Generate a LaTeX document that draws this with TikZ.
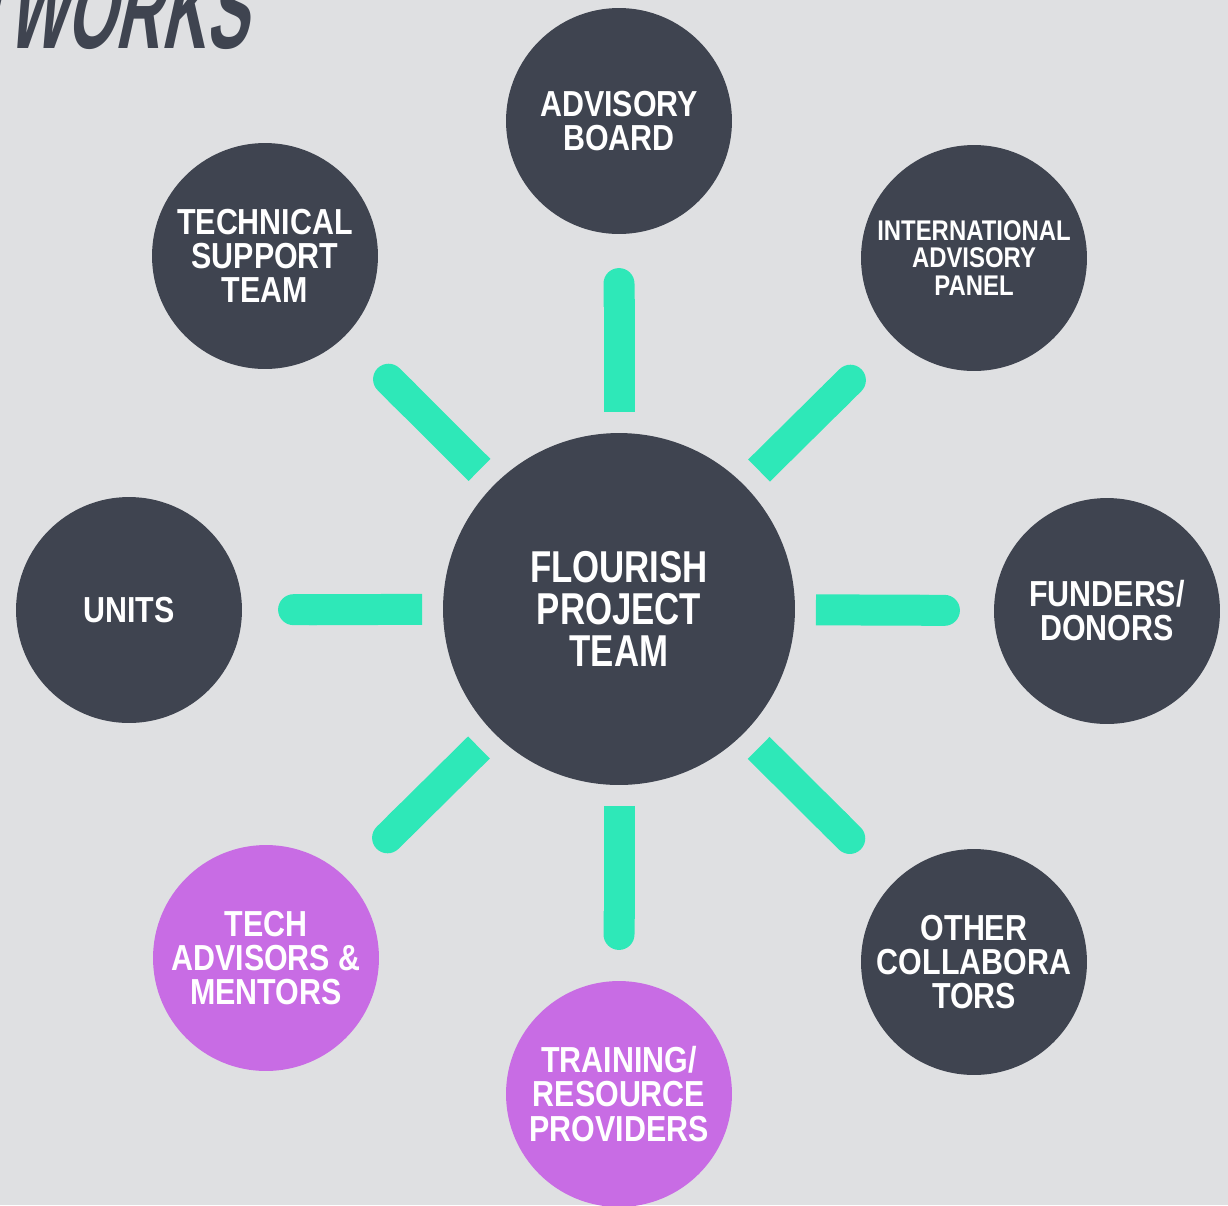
\documentclass[tikz,border=0pt]{standalone}
\usepackage{fontspec}
\setmainfont{Liberation Sans}[FakeStretch=0.78]
\newfontfamily\memberfont{Liberation Sans}[FakeStretch=0.84]
\newfontfamily\titlefont{Liberation Sans}[FakeStretch=0.56,FakeSlant=0.22]
\usetikzlibrary{calc,arrows.meta}

\definecolor{Paper}{HTML}{DFE0E2}
\definecolor{Slate}{HTML}{3F4450}
\definecolor{Mint}{HTML}{2EE8B8}
\definecolor{Orchid}{HTML}{C86CE4}

\tikzset{
  hub/.style={circle, fill=Slate, text=white, inner sep=0pt, minimum size=7.04cm, align=center, font=\bfseries\fontsize{25.4}{23.9}\selectfont},
  member/.style={circle, fill=Slate, text=white, inner sep=0pt, minimum size=4.52cm, align=center, font=\memberfont\bfseries\fontsize{20.6}{19.4}\selectfont},
  guest/.style={member, fill=Orchid},
  smalltext/.style={font=\memberfont\bfseries\fontsize{16.2}{15.9}\selectfont},
  link/.style={line width=0.62cm, color=Mint, -{Round Cap[]}},
}

\begin{document}
\begin{tikzpicture}[x=0.02cm, y=-0.02cm]

 %%%%%%%%%% Fond %%%%%%%%%%
 \fill [Paper] (0,0) rectangle (1228,1205);
 \useasboundingbox (0,0) rectangle (1228,1205);

 %%%%%%%%%% Title %%%%%%%%%%
 \node (title) [anchor=base east, inner sep=0pt, text=Slate, font=\titlefont\bfseries\fontsize{64}{64}\selectfont] at (248,48) {TWORKS};

 %%%%%%%%%% Circles %%%%%%%%%%
 \node (team) [hub] at (619,609) {FLOURISH\\PROJECT\\TEAM};
 \node (board) [member] at (619,121) {ADVISORY\\BOARD};
 \node (panel) [member, smalltext] at (974,258) {INTERNATIONAL\\ADVISORY\\PANEL};
 \node (funders) [member] at (1107,611) {FUNDERS/\\DONORS};
 \node (others) [member] at (974,962) {OTHER\\COLLABORA\\TORS};
 \node (training) [guest] at (619,1094) {TRAINING/\\RESOURCE\\PROVIDERS};
 \node (mentors) [guest] at (266,958) {TECH\\ADVISORS \&\\MENTORS};
 \node (units) [member] at (129,610) {UNITS};
 \node (support) [member] at (265,256) {TECHNICAL\\SUPPORT\\TEAM};

 %%%%%%%%%% Links %%%%%%%%%%
 \draw [link] ($(team)!3.94cm!(board)$) -- ($(team)!6.82cm!(board)$);
 \draw [link] ($(team)!3.94cm!(panel)$) -- ($(team)!6.82cm!(panel)$);
 \draw [link] ($(team)!3.94cm!(funders)$) -- ($(team)!6.82cm!(funders)$);
 \draw [link] ($(team)!3.94cm!(others)$) -- ($(team)!6.82cm!(others)$);
 \draw [link] ($(team)!3.94cm!(training)$) -- ($(team)!6.82cm!(training)$);
 \draw [link] ($(team)!3.94cm!(mentors)$) -- ($(team)!6.82cm!(mentors)$);
 \draw [link] ($(team)!3.94cm!(units)$) -- ($(team)!6.82cm!(units)$);
 \draw [link] ($(team)!3.94cm!(support)$) -- ($(team)!6.82cm!(support)$);

\end{tikzpicture}
\end{document}
